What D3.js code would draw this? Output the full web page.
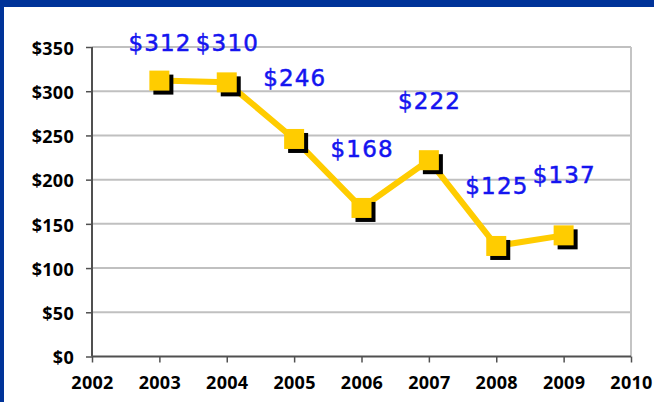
<!DOCTYPE html>
<html>
<head>
<meta charset="utf-8">
<script src="https://cdn.jsdelivr.net/npm/d3@7"></script>
<style>
  body { margin: 0; background: #fff; }
  svg { display: block; }
</style>
</head>
<body>
<div id="chart"></div>
<script>
// data
var years = [2003, 2004, 2005, 2006, 2007, 2008, 2009];
var prices = [312, 310, 246, 168, 222, 125, 137];
var priceLabels = ["$312", "$310", "$246", "$168", "$222", "$125", "$137"];
var labelRise = [30, 31, 53, 51, 51, 52, 52];   // how far each note sits above its point
var yTicks = [0, 50, 100, 150, 200, 250, 300, 350];
var xTicks = [2002, 2003, 2004, 2005, 2006, 2007, 2008, 2009, 2010];

var W = 654, H = 402;
var margin = {top: 47, right: 23, bottom: 45.5, left: 92},
    width = W - margin.left - margin.right,
    height = H - margin.top - margin.bottom;

var svg = d3.select("#chart")
  .append("svg")
    .attr("width", W)
    .attr("height", H);

// blue frame at top and left
svg.append("rect").attr("x", 0).attr("y", 0).attr("width", W).attr("height", 7).attr("fill", "#003399");
svg.append("rect").attr("x", 0).attr("y", 0).attr("width", 4).attr("height", H).attr("fill", "#003399");

var g = svg.append("g")
    .attr("transform", "translate(" + margin.left + "," + margin.top + ")");

var x = d3.scaleLinear().domain([2002, 2010]).range([0, width]);
var y = d3.scaleLinear().domain([0, 350]).range([height, 0]);

// gridlines
g.selectAll(".grid")
  .data(yTicks.filter(function(d) { return d > 0; }))
  .enter().append("line")
    .attr("x1", 0).attr("x2", width)
    .attr("y1", function(d) { return y(d); })
    .attr("y2", function(d) { return y(d); })
    .attr("stroke", "#c0c0c0")
    .attr("stroke-width", 2);

// right border of plot
g.append("line")
  .attr("x1", width).attr("x2", width)
  .attr("y1", 0).attr("y2", height)
  .attr("stroke", "#c4c4c4")
  .attr("stroke-width", 2);

// axes
var yAxis = g.append("g")
  .call(d3.axisLeft(y).tickValues(yTicks).tickSize(6).tickPadding(12)
    .tickFormat(function(d) { return "$" + d; }));
var xAxis = g.append("g")
  .attr("transform", "translate(0," + height + ")")
  .call(d3.axisBottom(x).tickValues(xTicks).tickSize(6).tickPadding(14)
    .tickFormat(d3.format("d")));

[yAxis, xAxis].forEach(function(a) {
  a.select(".domain").attr("stroke", "#505050").attr("stroke-width", 2);
  a.selectAll(".tick line").attr("stroke", "#505050").attr("stroke-width", 1.5);
  a.selectAll("text")
    .attr("fill", "#000")
    .style("font-family", "'Open Sans', sans-serif")
    .style("font-weight", "bold")
    .style("font-size", "18px")
    .style("letter-spacing", "0.3px");
});
yAxis.selectAll("text").attr("dy", "0.4em");
yAxis.select(".domain").attr("d", "M0," + height + "V0");
xAxis.select(".domain").attr("d", "M0,0H" + width);

var pts = years.map(function(d, i) { return {year: d, value: prices[i], label: priceLabels[i], rise: labelRise[i]}; });

// line
g.append("path")
  .datum(pts)
  .attr("fill", "none")
  .attr("stroke", "#ffcc00")
  .attr("stroke-width", 6)
  .attr("stroke-linejoin", "round")
  .attr("d", d3.line()
    .x(function(d) { return x(d.year); })
    .y(function(d) { return y(d.value); }));

// markers with shadow
var s = 20;
g.selectAll(".shadow")
  .data(pts)
  .enter().append("rect")
    .attr("x", function(d) { return x(d.year) - s / 2 + 4; })
    .attr("y", function(d) { return y(d.value) - s / 2 + 4; })
    .attr("width", s).attr("height", s)
    .attr("fill", "#000");
g.selectAll(".marker")
  .data(pts)
  .enter().append("rect")
    .attr("x", function(d) { return x(d.year) - s / 2; })
    .attr("y", function(d) { return y(d.value) - s / 2; })
    .attr("width", s).attr("height", s)
    .attr("fill", "#ffcc00");

// hand-written value notes
g.selectAll(".note")
  .data(pts)
  .enter().append("text")
    .text(function(d) { return d.label; })
    .attr("x", function(d) { return x(d.year) - 31; })
    .attr("y", function(d) { return y(d.value) - d.rise; })
    .attr("fill", "#1414f0")
    .attr("stroke", "#1414f0")
    .attr("stroke-width", 0.5)
    .style("font-family", "'DejaVu Sans', sans-serif")
    .style("font-size", "23px")
    .style("letter-spacing", "1.2px");
</script>
</body>
</html>
